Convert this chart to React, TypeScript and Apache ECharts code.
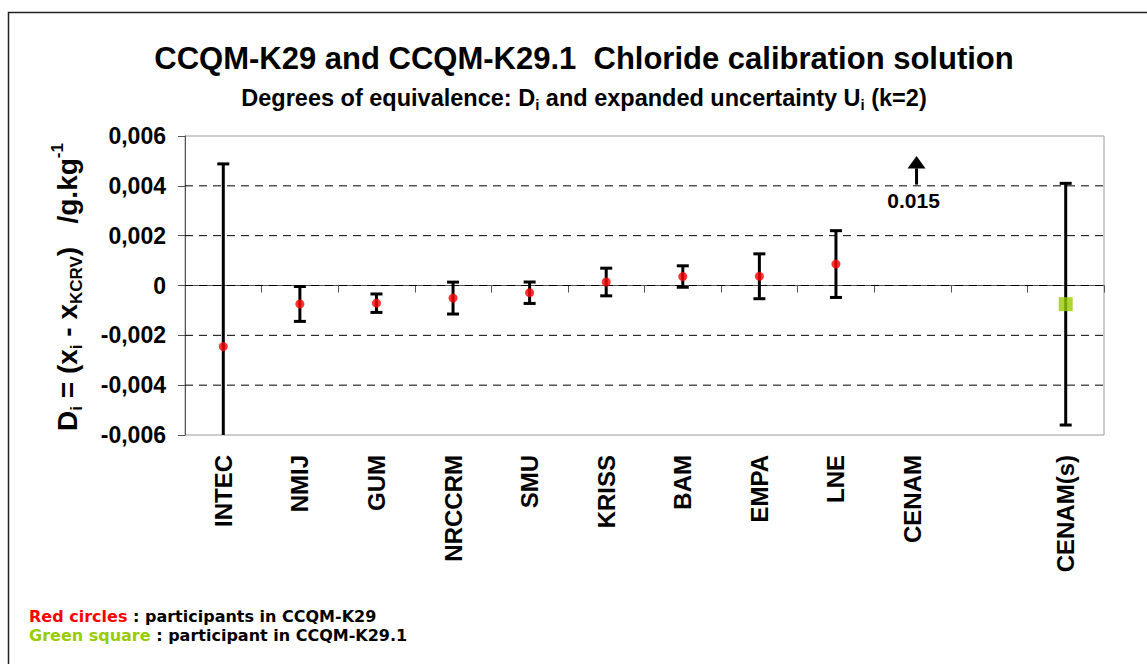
import React, { useEffect, useRef } from "react";
import * as echarts from "echarts";

const categories = ["INTEC", "NMIJ", "GUM", "NRCCRM", "SMU", "KRISS", "BAM", "EMPA", "LNE", "CENAM", "", "CENAM(s)"];
// CCQM-K29 participants (red circles): D_i and U_i (k=2), g/kg
const k29Values = [-0.00245, -0.00074, -0.00071, -0.000505, -0.00029, 0.00014, 0.00036, 0.00037, 0.00086, 0.015, null, null];
const k29U = [0.00733, 0.0007, 0.00037, 0.00064, 0.00043, 0.000555, 0.00043, 0.0009, 0.00134, null, null, null];
// CCQM-K29.1 participant (green square)
const k291Values = [null, null, null, null, null, null, null, null, null, null, null, -0.00075];
const k291U = [null, null, null, null, null, null, null, null, null, null, null, 0.00485];
const yTicks = [-0.006, -0.004, -0.002, 0, 0.002, 0.004, 0.006];

const Y_MIN = -0.006;
const Y_MAX = 0.006;
const FONT = "'Liberation Sans', Arial, sans-serif";
const WIDE_FONT = "'DejaVu Sans', 'Liberation Sans', sans-serif";

function fmtTick(v: number): string {
  if (Math.abs(v) < 1e-12) return "0";
  return v.toFixed(3).replace(".", ",");
}

export default function App() {
  const ref = useRef<HTMLDivElement>(null);

  useEffect(() => {
    if (!ref.current) return;
    const chart = echarts.init(ref.current, null, { renderer: "svg" });

    const errData: number[][] = [];
    const allV = [k29Values, k291Values];
    const allU = [k29U, k291U];
    for (let s = 0; s < 2; s++) {
      allV[s].forEach((v, i) => {
        const u = allU[s][i];
        if (v != null && u != null) errData.push([i, v - u, v + u]);
      });
    }
    const offData: number[][] = [];
    k29Values.forEach((v, i) => {
      if (v != null && v > Y_MAX) offData.push([i, v]);
    });

    const redData = k29Values.map((v, i) => (v == null || v > Y_MAX ? null : [i, v])).filter((d) => d) as number[][];
    const greenData = k291Values.map((v, i) => (v == null ? null : [i, v])).filter((d) => d) as number[][];

    const noteStyle = (color: string) => ({
      fontSize: 16,
      fontWeight: "bold",
      fontFamily: WIDE_FONT,
      fill: color,
      color,
    });

    const option: any = {
      animation: false,
      backgroundColor: "#fff",
      textStyle: { fontFamily: FONT },
      grid: {
        left: 185,
        right: 43,
        top: 136,
        bottom: 229,
        show: true,
        borderColor: "#9a9a9a",
        borderWidth: 1,
        backgroundColor: "#fff",
        containLabel: false,
      },
      xAxis: {
        type: "category",
        data: categories,
        boundaryGap: true,
        axisLine: { show: true, lineStyle: { color: "#555", width: 1 } },
        axisTick: { show: true, length: 7, interval: 0, lineStyle: { color: "#555" } },
        axisLabel: {
          interval: 0,
          rotate: 90,
          margin: 20,
          fontSize: 24,
          fontWeight: "bold",
          color: "#000",
          fontFamily: FONT,
        },
        splitLine: { show: false },
      },
      yAxis: {
        type: "value",
        min: Y_MIN,
        max: Y_MAX,
        interval: 0.002,
        axisLine: { show: true, lineStyle: { color: "#555", width: 1 } },
        axisTick: { show: true, length: 7, lineStyle: { color: "#555" } },
        axisLabel: {
          formatter: fmtTick,
          margin: 19,
          fontSize: 23,
          fontWeight: "bold",
          color: "#000",
          fontFamily: FONT,
        },
        splitLine: { show: false },
      },
      series: [
        {
          type: "custom",
          name: "errorbars",
          clip: true,
          z: 2,
          data: errData,
          renderItem: (params: any, api: any) => {
            const x = api.value(0);
            const lo = api.coord([x, api.value(1)]);
            const hi = api.coord([x, api.value(2)]);
            const hw = 6;
            const st = { stroke: "#000", lineWidth: 3 };
            return {
              type: "group",
              children: [
                { type: "line", shape: { x1: hi[0], y1: hi[1], x2: lo[0], y2: lo[1] }, style: st },
                { type: "line", shape: { x1: hi[0] - hw, y1: hi[1], x2: hi[0] + hw, y2: hi[1] }, style: st },
                { type: "line", shape: { x1: lo[0] - hw, y1: lo[1], x2: lo[0] + hw, y2: lo[1] }, style: st },
              ],
            };
          },
        },
        {
          type: "custom",
          name: "offscale",
          z: 3,
          data: offData,
          renderItem: (params: any, api: any) => {
            const x = api.value(0);
            const base = api.coord([x, 0.00405]);
            const headBase = api.coord([x, 0.0047]);
            const tip = api.coord([x, 0.0052]);
            const lab = api.coord([x, 0.0034]);
            const cx = base[0] + 4;
            return {
              type: "group",
              children: [
                {
                  type: "line",
                  shape: { x1: cx, y1: base[1], x2: cx, y2: headBase[1] },
                  style: { stroke: "#000", lineWidth: 3 },
                },
                {
                  type: "polygon",
                  shape: {
                    points: [
                      [cx, tip[1]],
                      [cx - 9, headBase[1]],
                      [cx + 9, headBase[1]],
                    ],
                  },
                  style: { fill: "#000" },
                },
                {
                  type: "text",
                  x: base[0] + 1,
                  y: lab[1],
                  style: {
                    text: String(api.value(1)),
                    fill: "#000",
                    font: `bold 21px ${FONT}`,
                    align: "center",
                    verticalAlign: "middle",
                  },
                },
              ],
            };
          },
        },
        {
          type: "custom",
          name: "gridlines",
          z: 1,
          silent: true,
          data: yTicks.filter((t) => t > Y_MIN && t < Y_MAX).map((t) => [0, t]),
          renderItem: (params: any, api: any) => {
            const p = api.coord([0, api.value(1)]);
            const cs = params.coordSys;
            return {
              type: "line",
              shape: { x1: cs.x, y1: p[1], x2: cs.x + cs.width, y2: p[1] },
              style: { stroke: "#000", lineWidth: 1, lineDash: [8, 6] },
            };
          },
        },
        {
          type: "scatter",
          name: "CCQM-K29",
          z: 4,
          symbol: "circle",
          symbolSize: 9,
          itemStyle: { color: "#ff0000" },
          data: redData,
        },
        {
          type: "scatter",
          name: "CCQM-K29.1",
          z: 4,
          symbol: "rect",
          symbolSize: 14,
          itemStyle: { color: "#99cc00" },
          data: greenData,
        },
      ],
      graphic: [
        {
          type: "rect",
          silent: true,
          shape: { x: 8.5, y: 12.5, width: 1160, height: 700 },
          style: { fill: "none", stroke: "#222", lineWidth: 1.5 },
        },
        {
          type: "text",
          x: 584,
          y: 58,
          style: {
            text: "CCQM-K29 and CCQM-K29.1  Chloride calibration solution",
            font: `bold 31px ${FONT}`,
            fill: "#000",
            align: "center",
            verticalAlign: "middle",
          },
        },
        {
          type: "text",
          x: 584,
          y: 98,
          style: {
            text: "{b|Degrees of equivalence: D}{s|i}{b| and expanded uncertainty U}{s|i}{b| (k=2)}",
            align: "center",
            verticalAlign: "middle",
            rich: {
              b: { fontSize: 23.5, fontWeight: "bold", fontFamily: FONT, fill: "#000", color: "#000", lineHeight: 28, verticalAlign: "middle" },
              s: { fontSize: 15, fontWeight: "bold", fontFamily: FONT, fill: "#000", color: "#000", lineHeight: 28, verticalAlign: "bottom" },
            },
          },
        },
        {
          type: "text",
          x: 67,
          y: 287,
          rotation: Math.PI / 2,
          style: {
            text: "{a|D}{s|i}{a| = (x}{s|i}{a| - x}{s|KCRV}{a|)   /g.kg}{p|-1}",
            align: "center",
            verticalAlign: "middle",
            rich: {
              a: { fontSize: 28, fontWeight: "bold", fontFamily: FONT, fill: "#000", color: "#000", lineHeight: 36, verticalAlign: "middle" },
              s: { fontSize: 17, fontWeight: "bold", fontFamily: FONT, fill: "#000", color: "#000", lineHeight: 36, verticalAlign: "bottom" },
              p: { fontSize: 17, fontWeight: "bold", fontFamily: FONT, fill: "#000", color: "#000", lineHeight: 36, verticalAlign: "top" },
            },
          },
        },
        {
          type: "text",
          x: 29,
          y: 616.5,
          style: {
            text: "{r|Red circles}{k| : participants in CCQM-K29}",
            align: "left",
            verticalAlign: "middle",
            rich: { r: noteStyle("#ff0000"), k: noteStyle("#000") },
          },
        },
        {
          type: "text",
          x: 29,
          y: 635.5,
          style: {
            text: "{g|Green square}{k| : participant in CCQM-K29.1}",
            align: "left",
            verticalAlign: "middle",
            rich: { g: noteStyle("#99cc00"), k: noteStyle("#000") },
          },
        },
      ],
    };

    chart.setOption(option);
    return () => {
      chart.dispose();
    };
  }, []);

  return (
    <div
      ref={ref}
      style={{ position: "fixed", left: 0, top: 0, width: 1147, height: 664, background: "#fff" }}
    />
  );
}
